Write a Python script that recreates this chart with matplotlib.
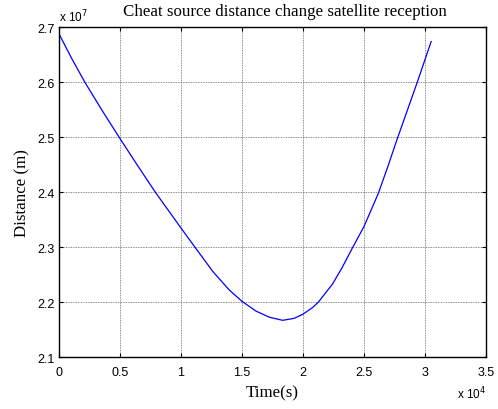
import matplotlib
matplotlib.use("Agg")
import matplotlib.pyplot as plt
from matplotlib.ticker import FuncFormatter

# Data (time in s, distance in m)
time_s = [0, 1000, 2120, 3500, 4930, 6400, 7900, 9000, 10000, 11150,
          12610, 13970, 15000, 16150, 17240, 18330, 19280, 20000, 20780,
          21280, 22000, 22410, 23200, 24050, 25000, 26170, 27000, 27720,
          29360, 30500]
distance_m = [2.688e7, 2.645e7, 2.600e7, 2.550e7, 2.500e7, 2.450e7, 2.400e7,
              2.366e7, 2.335e7, 2.300e7, 2.256e7, 2.222e7, 2.2018e7,
              2.184e7, 2.173e7, 2.1673e7, 2.1709e7, 2.1785e7, 2.1905e7,
              2.201e7, 2.2215e7, 2.233e7, 2.263e7, 2.299e7, 2.338e7,
              2.398e7, 2.450e7, 2.497e7, 2.600e7, 2.674e7]

x_ticks = [0, 5000, 10000, 15000, 20000, 25000, 30000, 35000]
y_ticks = [2.1e7, 2.2e7, 2.3e7, 2.4e7, 2.5e7, 2.6e7, 2.7e7]

fig = plt.figure(figsize=(4.98, 4.10), dpi=100)
ax = fig.add_axes([0.1185, 0.126, 0.976 - 0.1185, 0.931 - 0.126])
ax.plot(time_s, distance_m, color="#0000ff", linewidth=0.9)
ax.set_xlim(0, 35000)
ax.set_ylim(2.1e7, 2.7e7)
ax.set_xticks(x_ticks)
ax.set_yticks(y_ticks)
ax.xaxis.set_major_formatter(FuncFormatter(lambda v, p: "%g" % round(v / 1e4, 3)))
ax.yaxis.set_major_formatter(FuncFormatter(lambda v, p: "%g" % round(v / 1e7, 3)))
ax.tick_params(direction="in", top=True, right=True, length=3, width=0.8,
               labelsize=9)
ax.tick_params(axis="x", pad=6)
ax.tick_params(axis="y", pad=3)
for lab in ax.get_xticklabels() + ax.get_yticklabels():
    lab.set_fontfamily("Liberation Sans")
ax.grid(True, color="#666666", linestyle=(0, (1, 1)), linewidth=0.6)
for s in ax.spines.values():
    s.set_linewidth(1.0)
    s.set_color("black")

serif = "Liberation Serif"
ax.set_title("Cheat source distance change satellite reception",
             fontfamily=serif, fontsize=12.2, pad=9, x=0.528)
ax.set_xlabel("Time(s)", fontfamily=serif, fontsize=12.2, labelpad=5)
ax.set_ylabel("Distance (m)", fontfamily=serif, fontsize=12.2, labelpad=5)

fig.text(59 / 498, 1 - 17 / 410, r"x 10$^{7}$", fontfamily="Liberation Sans",
         fontsize=8.5, ha="left", va="center")
fig.text(457 / 498, 1 - 394 / 410, r"x 10$^{4}$", fontfamily="Liberation Sans",
         fontsize=8.5, ha="left", va="center")

fig.savefig("out.png", dpi=100)
